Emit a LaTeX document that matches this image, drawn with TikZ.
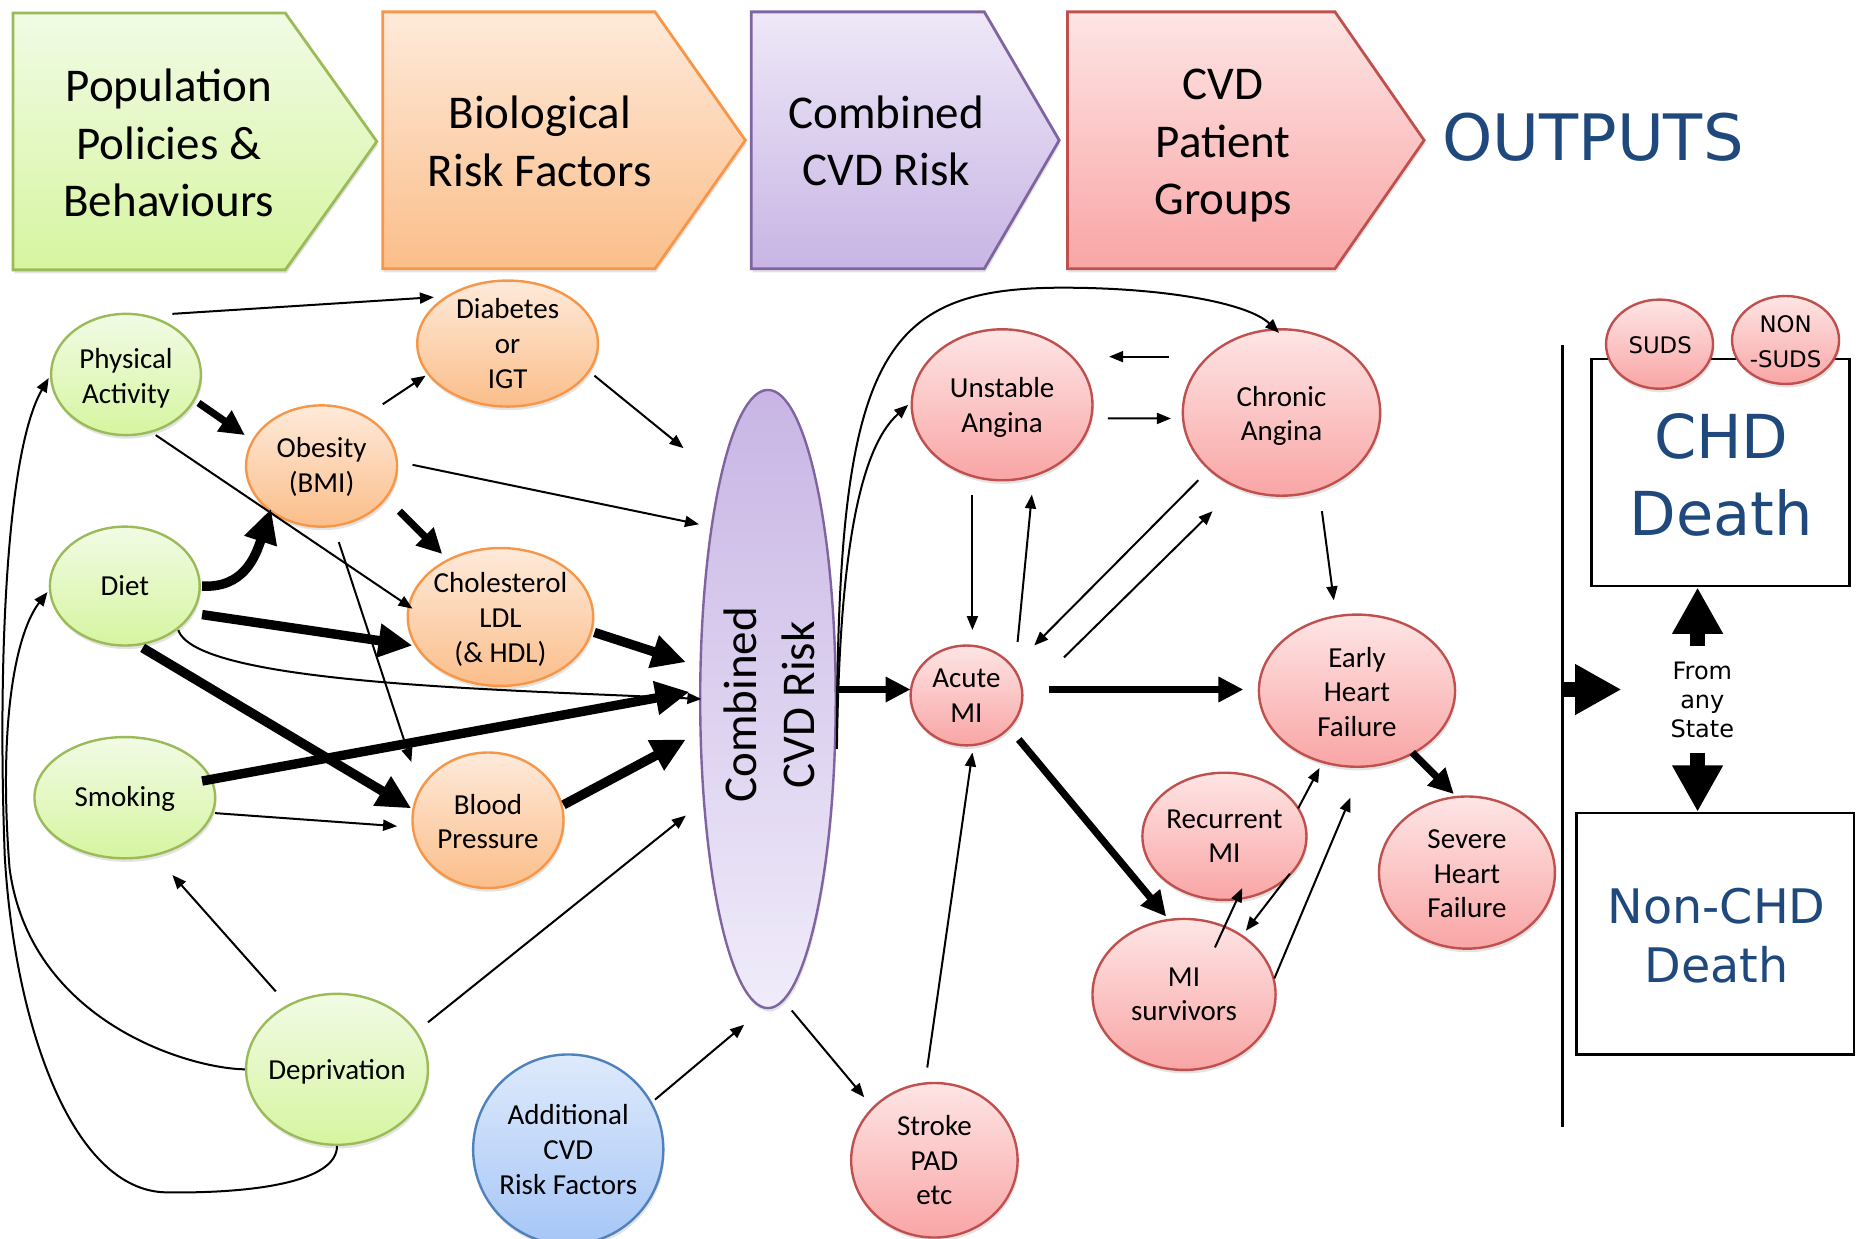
\documentclass[tikz,border=0pt]{standalone}
\usepackage{fontspec}
\setmainfont{Carlito}
\newfontfamily\dvs{DejaVu Sans}
\usetikzlibrary{arrows.meta,shapes.geometric,shadows,calc}
\definecolor{gT}{RGB}{241,251,229}
\definecolor{gD}{RGB}{214,245,160}
\definecolor{gB}{RGB}{155,187,89}
\definecolor{oT}{RGB}{254,234,218}
\definecolor{oD}{RGB}{251,190,138}
\definecolor{oB}{RGB}{247,150,70}
\definecolor{rT}{RGB}{254,229,229}
\definecolor{rD}{RGB}{249,165,165}
\definecolor{rB}{RGB}{192,80,77}
\definecolor{bT}{RGB}{222,234,252}
\definecolor{bD}{RGB}{166,198,246}
\definecolor{bB}{RGB}{79,129,189}
\definecolor{pD}{RGB}{200,181,228}
\definecolor{pL}{RGB}{240,236,250}
\definecolor{pT}{RGB}{238,232,248}
\definecolor{pB}{RGB}{128,100,162}
\definecolor{dblue}{RGB}{31,73,125}
\newcommand\mkbub[8][0]{%
  \node[#3, minimum width={2*#6*0.5944pt}, minimum height={2*#7*0.5944pt}] (#2) at (#4,#5) {};
  \node[lbl] (#2-t) at ($(#2.center)+(0,#1)$) {#8};}
\begin{document}
\begin{tikzpicture}[x=0.5944pt, y=-0.5944pt,
  shd/.style={drop shadow={opacity=0.22, shadow xshift=0.6pt, shadow yshift=-1.8pt}},
  bub/.style={ellipse, inner sep=0pt, line width=1.2pt, shd},
  gbub/.style={bub, draw=gB, top color=gT, bottom color=gD},
  obub/.style={bub, draw=oB, top color=oT, bottom color=oD},
  rbub/.style={bub, draw=rB, top color=rT, bottom color=rD},
  bbub/.style={bub, draw=bB, top color=bT, bottom color=bD},
  lbl/.style={align=center, inner sep=0pt, font=\fontsize{14.5}{17.3}\selectfont},
  hdr/.style={line width=1.4pt, shd},
  htxt/.style={align=center, inner sep=0pt, font=\fontsize{23.5}{28.8}\selectfont},
  arr/.style={-{Triangle[length=7pt,width=5.5pt]}, line width=1pt},
  thk/.style={-{Triangle[length=12.5pt,width=12pt]}, line width=3.6pt},
  hvy/.style={-{Triangle[length=17pt,width=16pt]}, line width=4.7pt},
  blk/.style={-{Triangle[length=23.2pt,width=23.8pt]}, line width=7.7pt},
  dbox/.style={draw, line width=1.3pt, inner sep=0pt}]
\useasboundingbox (0,0) rectangle (1568,1042);

% header chevrons
\path[hdr, draw=gB, top color=gT, bottom color=gD] (11,11) -- (240,11) -- (317,119) -- (240,227) -- (11,227) -- cycle;
\path[hdr, draw=oB, top color=oT, bottom color=oD] (322,10) -- (551,10) -- (627,118) -- (551,226) -- (322,226) -- cycle;
\path[hdr, draw=pB, top color=pT, bottom color=pD] (632,10) -- (828,10) -- (891,118) -- (828,226) -- (632,226) -- cycle;
\path[hdr, draw=rB, top color=rT, bottom color=rD] (898,10) -- (1123,10) -- (1198,118) -- (1123,226) -- (898,226) -- cycle;
\node[htxt] (h1) at (142,120.5) {Population\\Policies \&\\Behaviours};
\node[htxt] (h2) at (454,119) {Biological\\Risk Factors};
\node[htxt] (h3) at (745.5,118.5) {Combined\\CVD Risk};
\node[htxt] (h4) at (1029,122.5) {CVD\\Patient\\Groups};
\node[inner sep=0pt, text=dblue, font=\dvs\fontsize{32}{38}\selectfont] (outs) at (1340,115) {OUTPUTS};

% left nodes
\mkbub[3]{pa}{gbub}{106}{315}{63}{51}{Physical\\Activity}
\mkbub{diet}{gbub}{105}{493}{63}{50}{Diet}
\mkbub[1]{smk}{gbub}{105}{671}{76}{51}{Smoking}
\mkbub[2]{dep}{gbub}{283.5}{899.5}{76.5}{63.5}{Deprivation}
\mkbub{dia}{obub}{427}{289}{76}{53}{Diabetes\\or\\IGT}
\mkbub[1]{obe}{obub}{270.5}{392}{63.5}{51}{Obesity\\(BMI)}
\mkbub[2]{chol}{obub}{421}{519}{78}{58}{Cholesterol\\LDL\\(\& HDL)}
\mkbub[1]{bp}{obub}{410.5}{690}{63.5}{57}{Blood\\Pressure}
\mkbub{add}{bbub}{478}{967}{80}{80}{Additional\\CVD\\Risk Factors}

% combined risk
\node[ellipse, inner sep=0pt, draw=pB, line width=1.2pt, top color=pD, bottom color=pL,
  minimum width={114*0.5944pt}, minimum height={520*0.5944pt}, shd] (comb) at (646,588) {};
\node[rotate=90, align=center, inner sep=0pt, font=\fontsize{23.5}{29}\selectfont] (comb-t) at (647,593) {Combined\\CVD Risk};

% patient groups
\mkbub[2]{ua}{rbub}{843}{340.5}{76}{63.5}{Unstable\\Angina}
\mkbub[3]{ca}{rbub}{1078}{347}{83}{70}{Chronic\\Angina}
\mkbub{ami}{rbub}{813}{585}{47}{42}{Acute\\MI}
\mkbub[1]{ehf}{rbub}{1141.5}{581}{82.5}{64}{Early\\Heart\\Failure}
\mkbub{rmi}{rbub}{1030}{703.5}{69}{53.5}{Recurrent\\MI}
\mkbub[1]{shf}{rbub}{1234}{734}{74}{64}{Severe\\Heart\\Failure}
\mkbub{mis}{rbub}{996}{836.5}{77}{63.5}{MI\\survivors}
\mkbub{stk}{rbub}{786}{976}{70}{65}{Stroke\\PAD\\etc}

% left connectors (thin)
\draw[arr] ($(pa)+(39,-51)$) -- ($(dia)+(-62,-39)$);
\draw[arr] ($(pa)+(25,51)$) -- ($(chol)+(-74,-7)$);
\draw[arr] ($(obe)+(51.5,-52)$) -- ($(dia)+(-69,27)$);
\draw[arr] ($(dia)+(73,27)$) -- ($(comb)+(-71,-211)$);
\draw[arr] ($(obe)+(76.5,-1)$) -- ($(comb)+(-58,-147)$);
\draw[arr] ($(obe)+(14.5,64)$) -- ($(bp)+(-64.5,-49)$);
\draw[arr] ($(diet)+(45,37)$) .. controls ($(diet)+(60,82)$) and ($(comb)+(-226,-8)$) .. ($(comb)+(-56,0)$);
\draw[arr] ($(smk)+(76,13)$) -- ($(bp)+(-76.5,5)$);
\draw[arr] ($(dep)+(-51.5,-65.5)$) -- ($(smk)+(40,65)$);
\draw[arr] ($(dep)+(76.5,-39.5)$) -- ($(comb)+(-69,98)$);
\draw[arr] ($(add)+(73,-42)$) -- ($(comb)+(-20,274)$);
\coordinate (wA) at (8,730);
\coordinate (wB1) at (140,1003);
\coordinate (wB2) at (4,720);
\draw[arr] (dep.west) .. controls (160,899) and (25,860) .. (wA)
  .. controls (-2,600) and (15,530) .. ($(diet)+(-65,5)$);
\draw[arr] (dep.south) .. controls (283.5,995) and (210,1004) .. (wB1)
  .. controls (60,1002) and (12,860) .. (wB2)
  .. controls (-2,560) and (5,380) .. ($(pa)+(-65,3)$);

% left connectors (thick)
\draw[thk] ($(pa)+(61,24)$) -- ($(obe)+(-64.5,-26)$);
\draw[thk] ($(obe)+(65.5,38)$) -- ($(chol)+(-49,-53)$);
\draw[hvy] ($(diet)+(65,0)$) .. controls ($(diet)+(100,2)$) and ($(obe)+(-55.5,76)$) .. ($(obe)+(-42.5,36)$);
\draw[hvy] ($(diet)+(65,24)$) -- ($(chol)+(-74,24)$);
\draw[hvy] ($(diet)+(15,52)$) -- ($(bp)+(-64.5,-10)$);
\draw[hvy] ($(smk)+(65,-14)$) -- ($(comb)+(-66,-6)$);
\draw[hvy] ($(chol)+(79,13)$) -- ($(comb)+(-69,-31)$);
\draw[hvy] ($(bp)+(63.5,-13)$) -- ($(comb)+(-69,34)$);

% right connectors
\coordinate (stem) at ($(comb)+(58,42)$);
\draw[arr] (stem) .. controls (706,480) and (720,380) .. ($(ua.west)+(-2,0)$);
\draw[arr] (stem) .. controls (704,300) and (740,242) .. (894,242)
  .. controls (980,242) and (1050,255) .. ($(ca)+(-2,-67)$);
\draw[arr] ($(ua)+(89,11.5)$) -- ($(ca)+(-93,5)$);
\draw[arr] ($(ca)+(-95,-47)$) -- ($(ua)+(90,-40.5)$);
\draw[arr] ($(ua)+(-25,75.5)$) -- ($(ami)+(5,-55)$);
\draw[arr] ($(ami)+(43,-45)$) -- ($(ua)+(25,75.5)$);
\draw[arr] ($(ca)+(-70,57)$) -- ($(ami)+(57,-42)$);
\draw[arr] ($(ami)+(82,-32)$) -- ($(ca)+(-58,83)$);
\draw[arr] ($(ca)+(34,83)$) -- ($(ehf)+(-19.5,-76)$);
\draw[arr] ($(rmi)+(62,-23.5)$) -- ($(ehf)+(-31.5,65)$);
\draw[arr] ($(mis)+(76,-13.5)$) -- ($(ehf)+(-5.5,90)$);
\draw[arr] ($(mis)+(26,-39.5)$) -- ($(rmi)+(15,43.5)$);
\draw[arr] ($(rmi)+(55,31.5)$) -- ($(mis)+(52,-53.5)$);
\draw[arr] ($(comb)+(20,262)$) -- ($(stk)+(-59,-53)$);
\draw[arr] ($(stk)+(-6,-78)$) -- ($(ami)+(5,48)$);
\draw[thk] ($(comb)+(57,-8)$) -- ($(ami)+(-47,-5)$);
\draw[thk] ($(ami)+(69,-5)$) -- ($(ehf)+(-95.5,-1)$);
\draw[thk] ($(ami)+(44,37)$) -- ($(mis)+(-15,-65.5)$);
\draw[thk] ($(ehf)+(46.5,52)$) -- ($(shf)+(-11,-66)$);

% outputs
\coordinate (vt) at (1314,290);
\coordinate (vb) at (1314,948);
\draw[line width=1.5pt] (vt) -- (vb);
\coordinate (ra) at (1314,580);
\coordinate (rb) at (1364,580);
\draw[blk] (ra) -- (rb);
\node[dbox, minimum width={217*0.5944pt}, minimum height={191*0.5944pt}] (chd) at (1447.5,397.5) {};
\node[dbox, minimum width={233.6*0.5944pt}, minimum height={203*0.5944pt}] (nchd) at (1442.8,785.5) {};
\node[align=center, inner sep=0pt, text=dblue, font=\dvs\fontsize{30.3}{38.6}\selectfont] (chd-t) at (1448,399.5) {CHD\\Death};
\node[align=center, inner sep=0pt, text=dblue, font=\dvs\fontsize{23.8}{29.1}\selectfont] (nchd-t) at (1444,787) {Non-CHD\\Death};
\node[align=center, inner sep=0pt, font=\dvs\fontsize{12}{14.4}\selectfont] (fas) at (1432,589) {From\\any\\State};
\coordinate (ua0) at (1428,543);
\coordinate (da0) at (1428,633);
\draw[blk] (ua0) -- (ua0 |- chd.south);
\draw[blk] (da0) -- (da0 |- nchd.north);
\node[rbub, minimum width={90*0.5944pt}, minimum height={75*0.5944pt}] (suds) at (1396,289.5) {};
\node[inner sep=0pt, font=\dvs\fontsize{11.4}{17.5}\selectfont] (suds-t) at (1396.5,290) {SUDS};
\node[rbub, minimum width={90*0.5944pt}, minimum height={74*0.5944pt}] (nsuds) at (1502,286) {};
\node[align=center, inner sep=0pt, font=\dvs\fontsize{11.4}{17.5}\selectfont] (nsuds-t) at (1502,287.5) {NON\\-SUDS};
\end{tikzpicture}
\end{document}
